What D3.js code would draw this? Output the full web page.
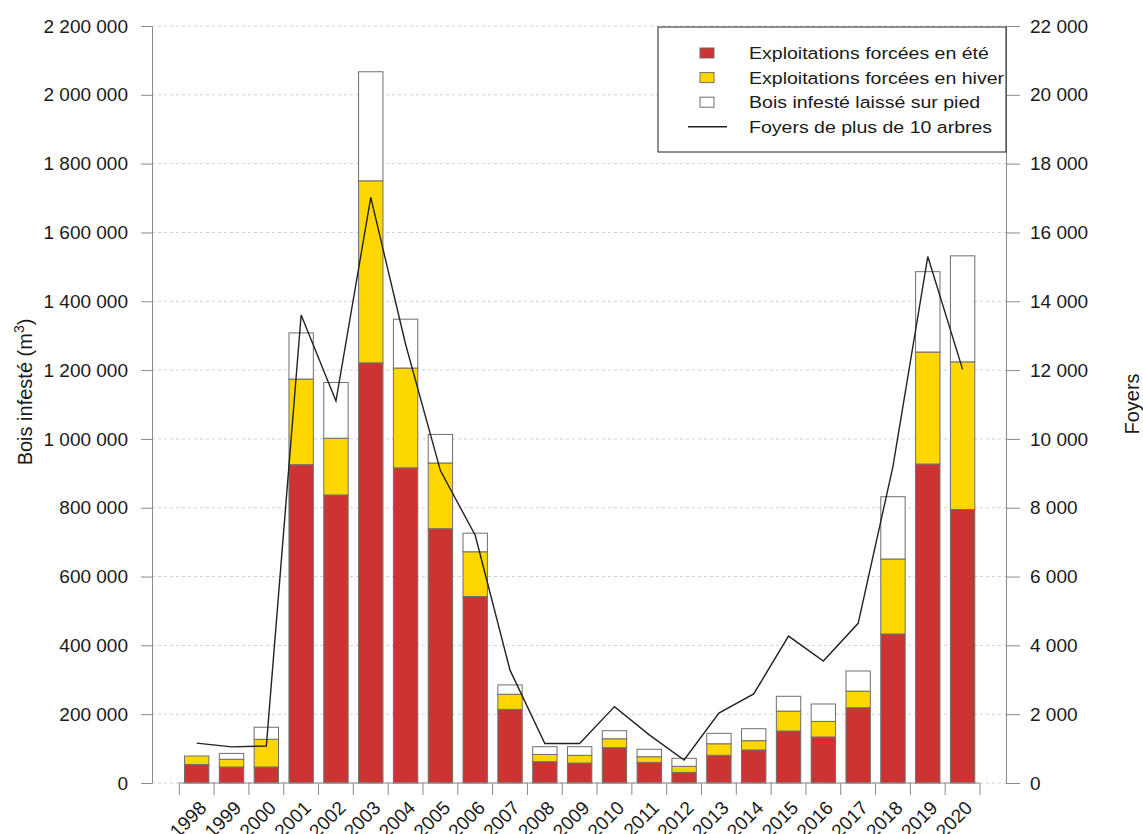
<!DOCTYPE html>
<html>
<head>
<meta charset="utf-8">
<script src="https://cdn.jsdelivr.net/npm/d3@7"></script>
<style>
	body { margin: 0; background: #fff; }
	svg { font-family: "Liberation Sans", Arial, sans-serif; }
	.axis path, .axis line { stroke: #8a8a8a; }
	.axis text { fill: #1a1a1a; font-size: 19px; }
</style>
</head>
<body>
<div id="chart"></div>
<script>
// data (m3 and number of foyers)
const years = ["1998","1999","2000","2001","2002","2003","2004","2005","2006","2007","2008","2009",
	"2010","2011","2012","2013","2014","2015","2016","2017","2018","2019","2020"];
const summer = [54000, 46500, 46500, 925000, 837000, 1221000, 916000, 739000, 542000, 214000, 62000, 58000,
	102600, 60000, 31000, 80500, 96000, 151000, 133700, 218800, 433000, 927000, 795000];
const winter = [24500, 22500, 80500, 249000, 165000, 529000, 290000, 191000, 130000, 44000, 21000, 22500,
	26000, 16400, 17500, 33500, 27000, 58000, 45300, 48200, 218000, 325500, 429000];
const standing = [0, 17000, 35000, 134000, 162000, 317000, 142000, 83000, 54000, 27000, 22500, 25000,
	23300, 21600, 23300, 30400, 34800, 43000, 50600, 58500, 181000, 233500, 308000];
const foyers = [1160, 1050, 1075, 13600, 11100, 17020, 12750, 9080, 7200, 3280, 1150, 1150,
	2220, 1400, 670, 2030, 2590, 4270, 3545, 4640, 9200, 15300, 12020];

const leftTicks = d3.range(0, 2200001, 200000);
const rightTicks = d3.range(0, 22001, 2000);

const legendLabels = ["Exploitations forcées en été", "Exploitations forcées en hiver",
	"Bois infesté laissé sur pied", "Foyers de plus de 10 arbres"];
const colors = { summer: "#cc3333", winter: "#ffd700", standing: "#ffffff" };

// set up svg
const width = 1143;
const height = 834;
const plot = { left: 152, right: 1006, top: 26, bottom: 783 };

const svg = d3.select("#chart")
	.append("svg")
	.attr("width", width)
	.attr("height", height);

const fr = d3.formatLocale({ decimal: ",", thousands: " ", grouping: [3], currency: ["", " €"] });
const fmt = fr.format(",d");

// scales
const xScale = d3.scaleBand()
	.domain(years)
	.range([179.3, 980])
	.paddingInner(0.3)
	.paddingOuter(0.15);

const yScale = d3.scaleLinear().domain([0, 2200000]).range([plot.bottom, plot.top]);
const y2Scale = d3.scaleLinear().domain([0, 22000]).range([plot.bottom, plot.top]);

// grid
svg.append("g")
	.selectAll("line")
	.data(leftTicks)
	.join("line")
	.attr("x1", plot.left)
	.attr("x2", plot.right)
	.attr("y1", d => yScale(d))
	.attr("y2", d => yScale(d))
	.attr("stroke", "#d0d0d0")
	.attr("stroke-dasharray", "3,3");

// stacked bars
const table = years.map((y, i) => ({ year: y, summer: summer[i], winter: winter[i], standing: standing[i] }));
const stack = d3.stack().keys(["summer", "winter", "standing"])(table);

svg.append("g")
	.selectAll("g")
	.data(stack)
	.join("g")
	.attr("fill", d => colors[d.key])
	.selectAll("rect")
	.data(d => d)
	.join("rect")
	.attr("x", d => xScale(d.data.year))
	.attr("width", xScale.bandwidth())
	.attr("y", d => yScale(d[1]))
	.attr("height", d => yScale(d[0]) - yScale(d[1]))
	.attr("stroke", "#6e6e6e")
	.attr("stroke-width", 1);

// foyers line
const line = d3.line()
	.x((d, i) => xScale(years[i]) + xScale.bandwidth() / 2)
	.y(d => y2Scale(d));

svg.append("path")
	.datum(foyers)
	.attr("d", line)
	.attr("fill", "none")
	.attr("stroke", "#222")
	.attr("stroke-width", 1.4);

// axes
const yAxis = d3.axisLeft(yScale).tickValues(leftTicks).tickFormat(fmt).tickSize(11).tickSizeOuter(0).tickPadding(13);
svg.append("g")
	.attr("class", "axis")
	.attr("transform", `translate(${plot.left},0)`)
	.call(yAxis);

const y2Axis = d3.axisRight(y2Scale).tickValues(rightTicks).tickFormat(fmt).tickSize(14).tickSizeOuter(0).tickPadding(10);
svg.append("g")
	.attr("class", "axis")
	.attr("transform", `translate(${plot.right},0)`)
	.call(y2Axis);

// x axis: ticks on the bar boundaries, labels turned 45 degrees
const step = xScale.step();
const bounds = years.map(y => xScale(y) + xScale.bandwidth() / 2 - step / 2);
bounds.push(bounds[bounds.length - 1] + step);

const xg = svg.append("g").attr("class", "axis");
xg.append("line")
	.attr("x1", bounds[0])
	.attr("x2", bounds[bounds.length - 1])
	.attr("y1", plot.bottom)
	.attr("y2", plot.bottom);
xg.selectAll("line.tick")
	.data(bounds)
	.join("line")
	.attr("class", "tick")
	.attr("x1", d => d)
	.attr("x2", d => d)
	.attr("y1", plot.bottom)
	.attr("y2", plot.bottom + 12);
xg.selectAll("text")
	.data(years)
	.join("text")
	.attr("text-anchor", "end")
	.attr("transform", d => `translate(${xScale(d) + xScale.bandwidth() / 2 + 11},${plot.bottom + 26}) rotate(-45)`)
	.style("font-size", "19px")
	.text(d => d);

// axis titles
svg.append("text")
	.attr("transform", "translate(32,392) rotate(-90)")
	.attr("text-anchor", "middle")
	.style("font-size", "20px")
	.attr("fill", "#1a1a1a")
	.call(t => {
		t.append("tspan").text("Bois infesté (m");
		t.append("tspan").attr("dy", -8).style("font-size", "14px").text("3");
		t.append("tspan").attr("dy", 8).text(")");
	});

svg.append("text")
	.attr("transform", "translate(1139,404) rotate(-90)")
	.attr("text-anchor", "middle")
	.style("font-size", "20px")
	.attr("fill", "#1a1a1a")
	.text("Foyers");

// legend
const legend = svg.append("g");
legend.append("rect")
	.attr("x", 658)
	.attr("y", 27)
	.attr("width", plot.right - 658)
	.attr("height", 125)
	.attr("fill", "#fff")
	.attr("stroke", "#222")
	.attr("stroke-width", 1);

const keys = ["summer", "winter", "standing", "line"];
const rows = legend.selectAll("g.row")
	.data(legendLabels)
	.join("g")
	.attr("class", "row")
	.attr("transform", (d, i) => `translate(0,${53 + i * 24.6})`);

rows.filter((d, i) => keys[i] !== "line")
	.append("rect")
	.attr("x", 700)
	.attr("y", -5)
	.attr("width", 14)
	.attr("height", 10)
	.attr("fill", (d, i) => colors[keys[i]])
	.attr("stroke", "#6e6e6e");

rows.filter((d, i) => keys[i] === "line")
	.append("line")
	.attr("x1", 688)
	.attr("x2", 727)
	.attr("stroke", "#222")
	.attr("stroke-width", 1.4);

rows.append("text")
	.attr("transform", "translate(749,0) scale(1.15,1)")
	.attr("dy", "0.35em")
	.style("font-size", "17px")
	.attr("fill", "#1a1a1a")
	.text(d => d);
</script>
</body>
</html>
